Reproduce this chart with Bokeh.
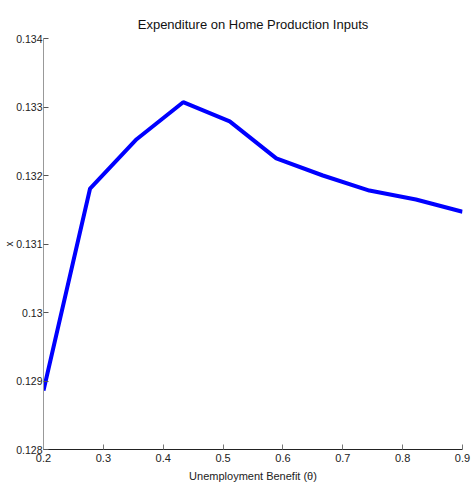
from bokeh.plotting import figure
from bokeh.models import FixedTicker, CustomJSTickFormatter, Range1d
from bokeh.embed import file_html
from bokeh.resources import INLINE

theta = [0.2, 0.2778, 0.3556, 0.4333, 0.5111, 0.5889, 0.6667, 0.7444, 0.8222, 0.9]
expend = [0.12886, 0.13181, 0.13253, 0.13307, 0.13279, 0.13225, 0.13200, 0.13178, 0.13165, 0.13147]
x_ticks = [0.2, 0.3, 0.4, 0.5, 0.6, 0.7, 0.8, 0.9]
y_ticks = [0.128, 0.129, 0.13, 0.131, 0.132, 0.133, 0.134]

FONT = "Liberation Sans"

p = figure(width=471, height=487, output_backend="svg", toolbar_location=None,
           x_range=Range1d(0.2, 0.9), y_range=Range1d(0.128, 0.134),
           title="Expenditure on Home Production Inputs",
           min_border_left=43, min_border_right=9, min_border_top=38, min_border_bottom=38)
p.line(theta, expend, line_color="#0000ff", line_width=4)

p.title.align = "center"
p.title.text_font = FONT
p.title.text_font_style = "normal"
p.title.text_font_size = "13px"
p.title.text_color = "#111111"
p.title.standoff = 14

p.grid.visible = False
p.outline_line_color = None

for ax in (p.xaxis[0], p.yaxis[0]):
    ax.major_label_text_font = FONT
    ax.major_label_text_font_size = "11px"
    ax.major_label_text_color = "#222222"
    ax.axis_label_text_font = FONT
    ax.axis_label_text_font_size = "10px"
    ax.axis_label_text_font_style = "normal"
    ax.axis_label_text_color = "#222222"
    ax.minor_tick_line_color = None
    ax.major_tick_in = 5
    ax.major_tick_out = 0

p.yaxis.major_label_text_font_size = "10.5px"
p.xaxis.axis_label_text_font_size = "11px"
p.xaxis.major_label_standoff = 4
p.xaxis.axis_label_standoff = 5
p.yaxis.major_label_standoff = 1
p.yaxis.axis_label_standoff = -2

p.xaxis.ticker = FixedTicker(ticks=x_ticks)
p.yaxis.ticker = FixedTicker(ticks=y_ticks)
p.xaxis.formatter = CustomJSTickFormatter(code="return tick.toFixed(1);")
p.yaxis.formatter = CustomJSTickFormatter(code="return tick.toFixed(3).replace(/0+$/, '');")
p.xaxis.axis_label = "Unemployment Benefit (\u03b8)"
p.yaxis.axis_label = "x"
p.xaxis.axis_line_color = "#222222"
p.xaxis.major_tick_line_color = "#777777"
p.yaxis.axis_line_color = "#999999"
p.yaxis.major_tick_line_color = "#555555"

open("out.html", "w").write(file_html(p, INLINE))
